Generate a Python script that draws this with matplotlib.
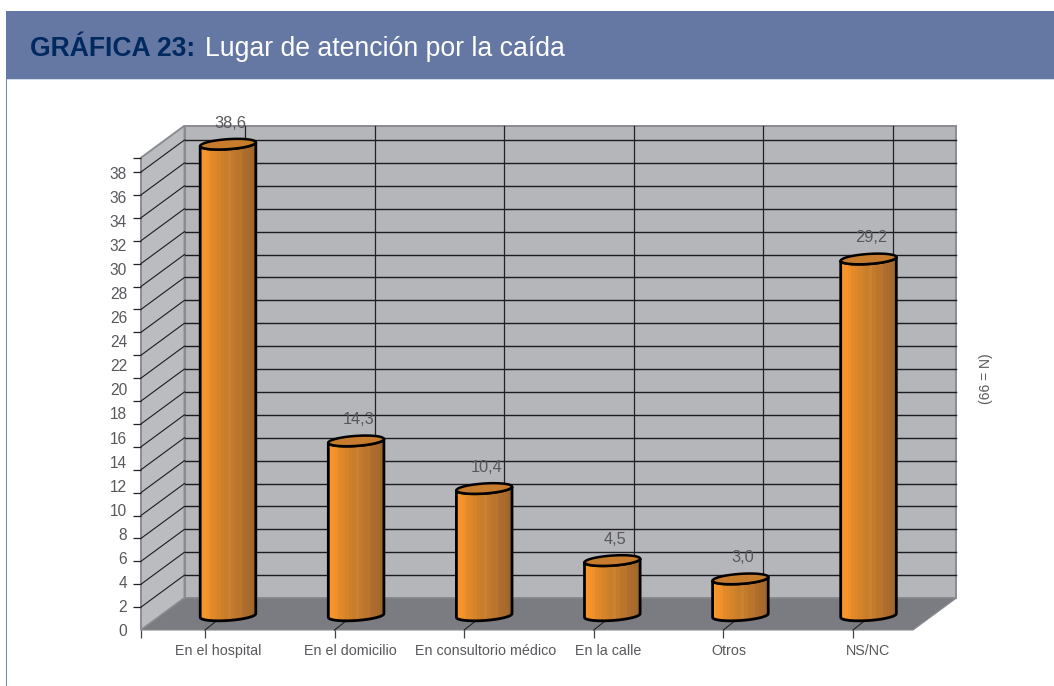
"""Gráfica 23: cilindros en falsa perspectiva, todo en coordenadas de datos del eje."""
import matplotlib
matplotlib.use("Agg")
import matplotlib.pyplot as plt
import matplotlib.transforms as mtrans
import numpy as np
from matplotlib.colors import ListedColormap
from matplotlib.patches import PathPatch, Polygon, Rectangle
from matplotlib.path import Path

categories = ["En el hospital", "En el domicilio", "En consultorio médico",
              "En la calle", "Otros", "NS/NC"]
values = [38.6, 14.3, 10.4, 4.5, 3.0, 29.2]
value_labels = ["38,6", "14,3", "10,4", "4,5", "3,0", "29,2"]
y_tick_values = list(range(0, 40, 2))

W, H = 1054, 686
PX_X = 129.6   # px por categoría
PX_Y = 12.03   # px por unidad
GRID_STEP = 22.9 / PX_Y   # las líneas no coinciden con las etiquetas, igual que el original
WALL_TOP = 472.3 / PX_Y
DX, DY = 43.5 / PX_X, 32 / PX_Y   # desplazamiento de la pared del fondo
LABEL_SHIFT = [12.7, 16, 21, 14, 5, 14.7]

GRAY_TEXT = "#58585C"
BAND_COLORS = ["#FB952A", "#F8932A", "#F0902A", "#E08A2A", "#DC882A", "#D5842A", "#CE802B",
               "#C87D2C", "#CC812F", "#C27A2C", "#BB762C", "#B9752E", "#AE6E2D", "#AA6B2D",
               "#A5682D", "#A0652C"]

plt.rcParams["font.family"] = ["Liberation Sans", "DejaVu Sans"]
fig = plt.figure(figsize=(W / 100, H / 100), dpi=100, facecolor="white")

# cabecera
fig.add_artist(Rectangle((6 / W, 1 - 79 / H), (W - 6) / W, 68 / H, transform=fig.transFigure,
                         fc="#6578A3", ec="none"))
fig.add_artist(Rectangle((6 / W, 1 - 80 / H), (W - 6) / W, 1.2 / H, transform=fig.transFigure,
                         fc="#D3DAEA", ec="none"))
fig.add_artist(Rectangle((6 / W, 0), 1.2 / W, 1 - 79 / H, transform=fig.transFigure,
                         fc="#7284B0", ec="none"))
fig.text(30 / W, 1 - 56 / H, "GRÁFICA 23:", color="#00295F", fontsize=19.1, fontweight="bold",
         va="baseline", ha="left")
fig.text(205 / W, 1 - 56 / H, "Lugar de atención por la caída", color="white", fontsize=19.2,
         va="baseline", ha="left")
fig.text(986 / W, 1 - 379 / H, "(66 = N)", color=GRAY_TEXT, fontsize=10, rotation=90,
         va="center", ha="center")

ax = fig.add_axes([141 / W, 1 - 630 / H, 772 / W, 520 / H])
ax.patch.set_visible(False)
xmin = (141 - 205) / PX_X
xmax = xmin + 772 / PX_X
ax.set_xlim(xmin, xmax)
ax.set_ylim(0, 520 / PX_Y)
ax.set_autoscale_on(False)
for s in ax.spines.values():
    s.set_visible(False)

# paredes y suelo
edge = "#8B8C92"
ax.add_patch(Polygon([(xmin + DX, DY), (xmax + DX, DY), (xmax + DX, DY + WALL_TOP),
                      (xmin + DX, DY + WALL_TOP)], fc="#B5B6BA", ec=edge, lw=1.4,
                     clip_on=False, zorder=1))
ax.add_patch(Polygon([(xmin, 0), (xmin + DX, DY), (xmin + DX, DY + WALL_TOP), (xmin, WALL_TOP)],
                     fc="#BBBCC0", ec=edge, lw=1.4, clip_on=False, zorder=1))
ax.add_patch(Polygon([(xmin, 0), (xmax, 0), (xmax + DX, DY), (xmin + DX, DY)],
                     fc="#7B7C81", ec="#8B8C92", lw=0.8, clip_on=False, zorder=1.5))

# rejilla
grid_y = GRID_STEP * np.arange(0, 21)
for g in grid_y[1:]:
    ax.plot([xmin + DX, xmax + DX], [g + DY, g + DY], color="#1c1c20", lw=1.0, zorder=2,
            clip_on=False)
    ax.plot([xmin, xmin + DX], [g, g + DY], color="#1c1c20", lw=0.8, zorder=2, clip_on=False)

x = np.arange(len(categories))
for xi in x:
    ax.plot([xi + DX * 0.92, xi + DX * 0.92], [DY, DY + WALL_TOP], color="#222226", lw=0.9,
            zorder=2, clip_on=False)
    ax.plot([xi, xi + DX * 0.92], [0, DY], color="#222226", lw=0.8, zorder=2, clip_on=False)

# cilindros
BAR_X0 = 23 / PX_X
BAR_PITCH = 128.1 / PX_X
BAR_BASE = 14.5 / PX_Y
BAR_GAIN = 1.015
A = 27.8 / PX_X        # semieje horizontal
B = 5.0 / PX_Y         # semieje vertical
TILT = 1.85 / PX_Y     # inclinación de la elipse
cmap = ListedColormap(BAND_COLORS)
t = np.linspace(0, np.pi, 60)

for i, (val, lab) in enumerate(zip(values, value_labels)):
    cx = BAR_X0 + i * BAR_PITCH
    top = BAR_BASE + val * BAR_GAIN
    # media elipse inferior, de izquierda a derecha
    arc_x = cx - A * np.cos(t)
    arc_lo = -B * np.sin(t) - TILT * np.cos(t)
    body = np.vstack([np.column_stack([arc_x, BAR_BASE + arc_lo]),
                      np.column_stack([arc_x[::-1], top + arc_lo[::-1]])])
    patch = PathPatch(Path(np.vstack([body, body[:1]])), fc="none", ec="black", lw=2.0,
                      zorder=4, clip_on=False, joinstyle="round")
    ax.add_patch(patch)
    im = ax.imshow(np.linspace(0, 1, 16)[None, :], extent=(cx - A, cx + A, BAR_BASE - 1, top + 1),
                   aspect="auto", cmap=cmap, zorder=3, interpolation="nearest")
    im.set_clip_path(PathPatch(Path(np.vstack([body, body[:1]])), transform=ax.transData))

    tt = np.linspace(0, 2 * np.pi, 120)
    ax.fill(cx + A * np.cos(tt), top + B * np.sin(tt) + TILT * np.cos(tt), fc="#C67C2C",
            ec="black", lw=1.8, zorder=5, clip_on=False)
    ax.annotate(lab, (cx, top), xytext=(2.5, 21), textcoords="offset pixels", ha="center",
                va="center", color=GRAY_TEXT, fontsize=11.8, zorder=6)

# ejes
ax.set_yticks(y_tick_values)
ax.set_yticklabels([str(v) for v in y_tick_values], color=GRAY_TEXT, fontsize=11.2)
ax.set_yticks(list(grid_y) + [WALL_TOP], minor=True)
ax.tick_params(axis="y", which="major", length=0, pad=10)
ax.tick_params(axis="y", which="minor", length=5.8, width=0.9, color="#222226")
ax.set_xticks(x)
ax.set_xticklabels(categories, color=GRAY_TEXT, fontsize=10.3)
ax.set_xticks([xmin], minor=True)
ax.tick_params(axis="x", which="both", length=5.8, width=0.9, color="#444448", pad=4.5)
for lbl, shift in zip(ax.get_xticklabels(), LABEL_SHIFT):
    lbl.set_transform(lbl.get_transform() + mtrans.Affine2D().translate(shift, 0))

fig.savefig("out.png", dpi=100)
